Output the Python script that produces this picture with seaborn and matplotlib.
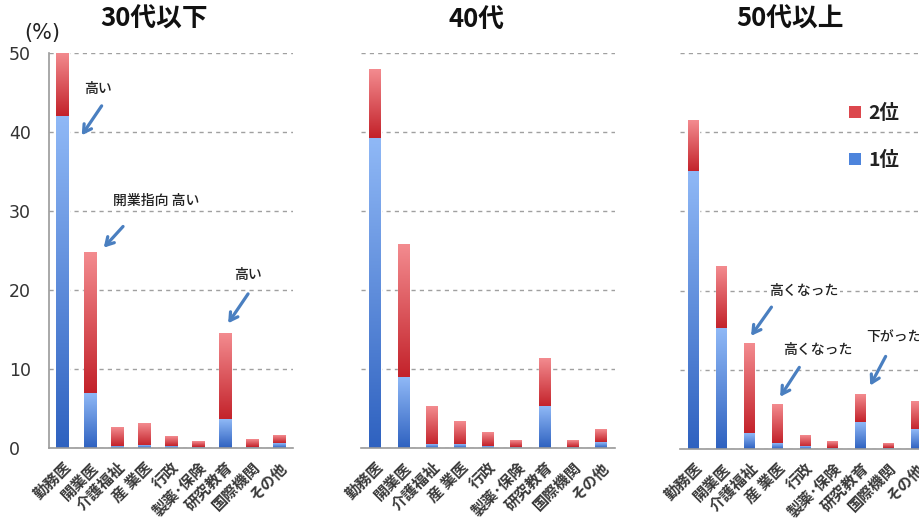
import numpy as np
import pandas as pd
import matplotlib
matplotlib.use("Agg")
import matplotlib.pyplot as plt
import seaborn as sns
from matplotlib.colors import to_rgba
from matplotlib.patches import Patch

# ---------------- data ----------------
categories = ['勤務医', '開業医', '介護福祉', '産 業医', '行政', '製薬･保険', '研究教育', '国際機関', 'その他']
panel_titles = ['30代以下', '40代', '50代以上']

u30_first = [42.0, 6.9, 0.2, 0.3, 0.2, 0.1, 3.6, 0.1, 0.6]
u30_total = [50.0, 24.7, 2.5, 3.2, 1.4, 0.8, 14.6, 1.1, 1.6]
s40_first = [39.2, 8.9, 0.4, 0.4, 0.2, 0.1, 5.2, 0.1, 0.7]
s40_total = [47.9, 25.8, 5.3, 3.4, 1.9, 0.9, 11.4, 0.9, 2.3]
o50_first = [35.0, 15.2, 1.9, 0.7, 0.3, 0.1, 3.4, 0.1, 2.4]
o50_total = [41.5, 23.1, 13.3, 5.6, 1.8, 0.9, 6.9, 0.7, 6.0]

y_ticks = [0, 10, 20, 30, 40, 50]
legend_labels = ['2位', '1位']

# ---------------- style ----------------
sns.set_style('white')
plt.rcParams['font.family'] = ['Noto Sans CJK JP', 'DejaVu Sans']

BLUE_TOP, BLUE_BOT = '#8fb8f6', '#2f62c0'
RED_TOP, RED_BOT = '#f38b8f', '#c3222a'
ARROW = '#4a7fc0'
GRID = '#a0a0a0'

fig = plt.figure(figsize=(9.2, 5.24), dpi=100)
W, H = 920, 524
positions = [
    [49 / W, 1 - 448 / H, 244 / W, 395 / H],
    [361 / W, 1 - 448 / H, 254 / W, 395 / H],
    [680 / W, 1 - 449 / H, 250 / W, 396 / H],
]
widths = [0.45, 0.41, 0.39]
firsts = [u30_first, s40_first, o50_first]
totals = [u30_total, s40_total, o50_total]
title_x = [154, 477, 790]


def gradient(ax, x0, x1, y0, y1, top, bot, z):
    if y1 - y0 <= 0:
        return
    n = 64
    c_top = np.array(to_rgba(top))
    c_bot = np.array(to_rgba(bot))
    t = np.linspace(0, 1, n)[:, None]
    arr = (c_bot * (1 - t) + c_top * t)[:, None, :]
    ax.imshow(arr, extent=(x0, x1, y0, y1), origin='lower', aspect='auto',
              interpolation='bilinear', zorder=z)


axes = []
for k in range(3):
    ax = fig.add_axes(positions[k])
    axes.append(ax)
    df = pd.DataFrame({'cat': categories, 'first': firsts[k], 'total': totals[k]})
    sns.barplot(data=df, x='cat', y='total', order=categories, color='#d8464c',
                saturation=1, width=widths[k], ax=ax, zorder=3)
    sns.barplot(data=df, x='cat', y='first', order=categories, color='#4a7fd8',
                saturation=1, width=widths[k], ax=ax, zorder=3)
    patches = ax.patches
    n = len(categories)
    red_p = patches[:n]
    blue_p = patches[n:2 * n]
    for rp, bp in zip(red_p, blue_p):
        x0 = bp.get_x()
        x1 = x0 + bp.get_width()
        hb = bp.get_height()
        ht = rp.get_height()
        gradient(ax, x0, x1, hb, ht, RED_TOP, RED_BOT, 4)
        gradient(ax, x0, x1, 0, hb, BLUE_TOP, BLUE_BOT, 4)

    ax.set_xlim(-0.5, len(categories) - 0.5)
    ax.set_ylim(0, 50)
    ax.set_xlabel('')
    ax.set_ylabel('')
    ax.set_yticks(y_ticks)
    ax.yaxis.grid(True, linestyle=(0, (3, 3)), color=GRID, linewidth=1, zorder=0)
    ax.set_axisbelow(True)
    ax.xaxis.grid(False)
    for s in ['top', 'right']:
        ax.spines[s].set_visible(False)
    ax.spines['bottom'].set_color('#9a9a9a')
    ax.spines['bottom'].set_linewidth(1.2)
    ax.spines['bottom'].set_zorder(5)

    ax.set_xticks(range(len(categories)))
    ax.set_xticklabels(categories, rotation=45, ha='right', rotation_mode='anchor',
                       fontsize=11, fontweight='bold', color='#3a3a3a')
    ax.set_xticks(np.arange(-0.5, len(categories), 1), minor=True)
    ax.tick_params(axis='x', which='major', length=0, pad=8)
    ax.tick_params(axis='x', which='minor', length=5, color='#9a9a9a', width=1, direction='out')

    if k == 0:
        ax.spines['left'].set_color('#9a9a9a')
        ax.spines['left'].set_linewidth(1.2)
        ax.tick_params(axis='y', length=4, color='#9a9a9a', width=1, pad=25,
                       labelsize=12.5, labelcolor='#333333')
        for lab in ax.get_yticklabels():
            lab.set_ha('left')
            lab.set_family(['DejaVu Sans'])
    else:
        ax.spines['left'].set_visible(False)
        ax.tick_params(axis='y', length=0, labelleft=False)

    fig.text(title_x[k] / W, 1 - 19 / H, panel_titles[k], ha='center', va='center',
             fontsize=18.5, fontweight='bold', color='#111111')

fig.text(42 / W, 1 - 33 / H, '(%)', ha='center', va='center', fontsize=15, color='#222222',
         family=['DejaVu Sans'])

# ---------------- annotations ----------------
def note(ax, text, txy, tail, head, boxed=False):
    kw = dict(ha='center', va='center', fontsize=10, fontweight='medium', color='#222222', zorder=6)
    if boxed:
        kw['bbox'] = dict(facecolor='white', edgecolor='none', pad=1.5)
    ax.text(txy[0], txy[1], text, **kw)
    ax.annotate('', xy=head, xytext=tail,
                arrowprops=dict(arrowstyle='->,head_length=0.55,head_width=0.32',
                                color=ARROW, lw=2.3), zorder=6)

a1, a2, a3 = axes
note(a1, '高い', (1.3, 45.5), (1.5, 43.6), (0.65, 39.3))
note(a1, '開業指向 高い', (3.45, 31.3), (2.3, 28.3), (1.45, 25.1))
note(a1, '高い', (6.85, 21.9), (6.9, 19.8), (6.05, 15.5))

note(a3, '高くなった', (3.95, 20.0), (2.85, 18.2), (2.0, 14.0), boxed=True)
note(a3, '高くなった', (4.45, 12.5), (3.85, 10.6), (3.05, 6.3))
note(a3, '下がった', (7.2, 14.1), (6.95, 12.0), (6.3, 7.7))

# ---------------- legend ----------------
handles = [Patch(facecolor='#dc474d', edgecolor='none'),
           Patch(facecolor='#4d84dc', edgecolor='none')]
leg = fig.legend(handles, legend_labels, loc='upper left', bbox_to_anchor=(832 / W, 1 - 86 / H),
                 frameon=False, fontsize=14, handlelength=0.6, handleheight=0.6,
                 handletextpad=0.35, labelspacing=1.45)
for t in leg.get_texts():
    t.set_color('#222222')
    t.set_fontweight('bold')

fig.savefig('out.png', dpi=100)
